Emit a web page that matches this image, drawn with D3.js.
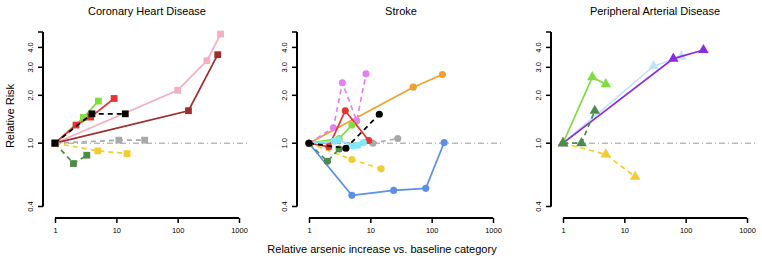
<!DOCTYPE html>
<html lang="en">
<head>
    <meta charset="UTF-8">
    <title>Relative Risk panels</title>
    <script src="https://d3js.org/d3.v7.min.js"></script>
    <style>
        body { margin: 0; background: #fff; }
        svg { display: block; font-family: "Liberation Sans", Arial, Helvetica, sans-serif; }
    </style>
</head>
<body>
    <div id="chart"></div>
    <script>
        // Panel titles and axis ticks
        const panelTitles = ["Coronary Heart Disease", "Stroke", "Peripheral Arterial Disease"];
        const xTicks = [1, 10, 100, 1000];
        const yTicks = [0.4, 1, 2, 3, 4, 5];
        const yTickLabels = ["0.4", "1.0", "2.0", "3.0", "4.0", ""];

        // Series per panel: [relative arsenic increase, relative risk]
        const chdSeries = [
            { key: "pink", pts: [[1, 1], [100, 2.15], [300, 3.3], [500, 4.85]] },
            { key: "brown", pts: [[1, 1], [150, 1.6], [450, 3.6]] },
            { key: "gray", pts: [[1, 1], [11, 1.045], [29, 1.045]] },
            { key: "gold", pts: [[1, 1], [5, 0.895], [15, 0.86]] },
            { key: "darkgreen", pts: [[1, 1], [2, 0.745], [3.3, 0.84]] },
            { key: "green", pts: [[1, 1], [2.9, 1.45], [5.1, 1.84]] },
            { key: "red", pts: [[1, 1], [2.2, 1.3], [3.8, 1.46], [9.2, 1.91]] },
            { key: "black", pts: [[1, 1], [4, 1.53], [14, 1.53]] }
        ];
        const strokeSeries = [
            { key: "orange", pts: [[1, 1], [50, 2.25], [150, 2.7]] },
            { key: "blue", pts: [[1, 1], [5, 0.47], [24, 0.505], [80, 0.52], [160, 1.01]] },
            { key: "gray", pts: [[1, 1], [11, 1.0], [28, 1.07]] },
            { key: "gold", pts: [[1, 1], [5, 0.79], [15, 0.69]] },
            { key: "violet", pts: [[1, 1], [2.5, 1.25], [3.5, 2.4], [6, 1.38], [8.5, 2.73]] },
            { key: "red", pts: [[1, 1], [2.1, 0.95], [3.9, 1.6], [9.4, 1.04]] },
            { key: "green", pts: [[1, 1], [3.1, 1.07], [5, 1.3]] },
            { key: "cyan", pts: [[1, 1], [2.6, 1.03], [3, 1.05], [5.3, 0.96], [6.3, 0.97], [7.7, 1.01]] },
            { key: "darkgreen", pts: [[1, 1], [2, 0.77], [3.1, 0.92]] },
            { key: "black", pts: [[1, 1], [4, 0.93], [14, 1.52]] }
        ];
        const padSeries = [
            { key: "gold", pts: [[1, 1], [5, 0.85], [15, 0.615]] },
            { key: "lightblue", pts: [[1, 1], [30, 3.05], [85, 3.5]] },
            { key: "purple", pts: [[1, 1], [63, 3.4], [195, 3.85]] },
            { key: "green", pts: [[1, 1], [3, 2.6], [5, 2.35]] },
            { key: "darkgreen", pts: [[1, 1], [2, 1.0], [3.3, 1.6]] }
        ];

        // Styles kept apart from the data
        const colors = {
            pink: "#f2b0c0", brown: "#a02c2c", gray: "#a8a8a8", gold: "#f2cc30",
            darkgreen: "#4d8b4a", green: "#80dd40", red: "#e53232", black: "#000000",
            orange: "#f0a030", blue: "#5b8fe8", violet: "#e282f0", cyan: "#80e8f4",
            lightblue: "#c4e2ff", purple: "#8a2be2"
        };
        const dashed = new Set(["gray", "gold", "darkgreen", "black", "violet"]);

        const width = 762, height = 262;
        const svg = d3.select("#chart").append("svg")
            .attr("width", width)
            .attr("height", height);

        const panels = [
            { data: chdSeries, shape: d3.symbolSquare, size: 46 },
            { data: strokeSeries, shape: d3.symbolCircle, size: 40 },
            { data: padSeries, shape: d3.symbolTriangle, size: 48 }
        ];

        panels.forEach((p, i) => {
            const off = i * 254;
            const g = svg.append("g").attr("transform", `translate(${off},0)`);

            const x = d3.scaleLog().domain([1, 1000]).range([55, 239]);
            const y = d3.scaleLog().domain([0.4, 5]).range([206.5, 32]);

            // title
            g.append("text")
                .attr("x", 147).attr("y", 15)
                .attr("text-anchor", "middle")
                .attr("font-size", 11)
                .text(panelTitles[i]);

            // reference line at RR = 1
            g.append("line")
                .attr("x1", x(1)).attr("x2", 248)
                .attr("y1", y(1)).attr("y2", y(1))
                .attr("stroke", "#999")
                .attr("stroke-width", 1)
                .attr("stroke-dasharray", "6,3,1,3");

            // y axis
            const yAxis = d3.axisLeft(y)
                .tickValues(yTicks)
                .tickFormat((d, k) => yTickLabels[k])
                .tickSize(5)
                .tickPadding(4);
            const ya = g.append("g")
                .attr("transform", "translate(43,0)")
                .call(yAxis);
            ya.select(".domain").attr("stroke-width", 2).attr("d", `M0,${y(0.4)}V${y(5)}`);
            ya.selectAll(".tick line").attr("stroke-width", 1.5);
            ya.selectAll(".tick text")
                .attr("font-size", 7.5)
                .attr("font-family", "Liberation Sans, Arial, sans-serif")
                .attr("transform", d => `rotate(-90,-12,${y(d)})`)
                .attr("x", -12)
                .attr("y", y)
                .attr("dy", "0.32em")
                .attr("text-anchor", "middle");
            ya.selectAll(".tick").attr("transform", null);
            ya.selectAll(".tick line").attr("y1", y).attr("y2", y);

            // x axis
            const xAxis = d3.axisBottom(x)
                .tickValues(xTicks)
                .tickFormat(d3.format("d"))
                .tickSize(5)
                .tickPadding(5);
            const xa = g.append("g")
                .attr("transform", "translate(0,218)")
                .call(xAxis);
            xa.select(".domain").attr("stroke-width", 2).attr("d", `M${x(1)},0H${x(1000)}`);
            xa.selectAll(".tick line").attr("stroke-width", 1.5);
            xa.selectAll(".tick text")
                .attr("font-size", 7.5)
                .attr("font-family", "Liberation Sans, Arial, sans-serif");

            // series lines then points
            const line = d3.line().x(d => x(d[0])).y(d => y(d[1]));
            p.data.forEach(s => {
                g.append("path")
                    .attr("d", line(s.pts))
                    .attr("fill", "none")
                    .attr("stroke", colors[s.key])
                    .attr("stroke-width", 1.7)
                    .attr("stroke-dasharray", dashed.has(s.key) ? "5,4" : null);
                g.selectAll(null)
                    .data(s.pts)
                    .enter()
                    .append("path")
                    .attr("d", d3.symbol().type(p.shape).size(p.size))
                    .attr("transform", d => `translate(${x(d[0])},${y(d[1])})`)
                    .attr("fill", colors[s.key]);
            });

            if (i === 0) {
                g.append("text")
                    .attr("transform", "translate(14,116) rotate(-90)")
                    .attr("text-anchor", "middle")
                    .attr("font-size", 11)
                    .text("Relative Risk");
            }
        });

        svg.append("text")
            .attr("x", 382).attr("y", 253)
            .attr("text-anchor", "middle")
            .attr("font-size", 11)
            .text("Relative arsenic increase vs. baseline category");
    </script>
</body>
</html>
